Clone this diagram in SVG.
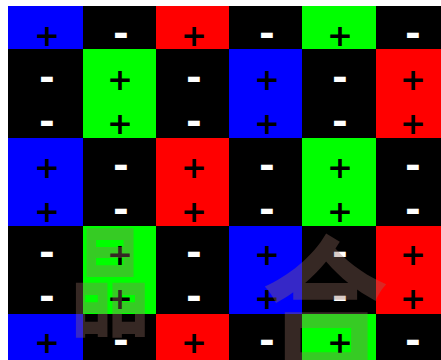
<svg xmlns="http://www.w3.org/2000/svg" width="441" height="360" viewBox="0 0 441 360">
  <style>
    .b { fill: #0000ff; }
    .r { fill: #ff0000; }
    .g { fill: #00ff00; }
    .k { fill: #000000; }
    .p { font-family: "DejaVu Sans", sans-serif; font-weight: bold; font-size: 31px; fill: #000000; text-anchor: middle; }
    .m { font-family: "DejaVu Sans", sans-serif; font-weight: bold; font-size: 38px; fill: #ffffff; text-anchor: middle; }
    .wm { font-family: "Noto Sans CJK SC", sans-serif; font-weight: 700; fill: rgb(150,110,100); fill-opacity: 0.36; text-anchor: middle; }
  </style>
  <rect x="0" y="0" width="441" height="360" fill="#ffffff"/>
  <g id="cells">
    <rect class="b" x="8" y="6" width="75" height="43"/>
    <rect class="k" x="83" y="6" width="73" height="43"/>
    <rect class="r" x="156" y="6" width="73" height="43"/>
    <rect class="k" x="229" y="6" width="73" height="43"/>
    <rect class="g" x="302" y="6" width="74" height="43"/>
    <rect class="k" x="376" y="6" width="65" height="43"/>
    <rect class="k" x="8" y="49" width="75" height="89"/>
    <rect class="g" x="83" y="49" width="73" height="89"/>
    <rect class="k" x="156" y="49" width="73" height="89"/>
    <rect class="b" x="229" y="49" width="73" height="89"/>
    <rect class="k" x="302" y="49" width="74" height="89"/>
    <rect class="r" x="376" y="49" width="65" height="89"/>
    <rect class="b" x="8" y="138" width="75" height="88"/>
    <rect class="k" x="83" y="138" width="73" height="88"/>
    <rect class="r" x="156" y="138" width="73" height="88"/>
    <rect class="k" x="229" y="138" width="73" height="88"/>
    <rect class="g" x="302" y="138" width="74" height="88"/>
    <rect class="k" x="376" y="138" width="65" height="88"/>
    <rect class="k" x="8" y="226" width="75" height="88"/>
    <rect class="g" x="83" y="226" width="73" height="88"/>
    <rect class="k" x="156" y="226" width="73" height="88"/>
    <rect class="b" x="229" y="226" width="73" height="88"/>
    <rect class="k" x="302" y="226" width="74" height="88"/>
    <rect class="r" x="376" y="226" width="65" height="88"/>
    <rect class="b" x="8" y="314" width="75" height="46"/>
    <rect class="k" x="83" y="314" width="73" height="46"/>
    <rect class="r" x="156" y="314" width="73" height="46"/>
    <rect class="k" x="229" y="314" width="73" height="46"/>
    <rect class="g" x="302" y="314" width="74" height="46"/>
    <rect class="k" x="376" y="314" width="65" height="46"/>
  </g>
  <g id="signs">
    <text class="p" x="47" y="46">+</text>
    <text class="m" x="121" y="46">-</text>
    <text class="p" x="194" y="46">+</text>
    <text class="m" x="267" y="46">-</text>
    <text class="p" x="340" y="46">+</text>
    <text class="m" x="413" y="46">-</text>
    <text class="m" x="47" y="90">-</text>
    <text class="p" x="120" y="90">+</text>
    <text class="m" x="194" y="90">-</text>
    <text class="p" x="267" y="90">+</text>
    <text class="m" x="340" y="90">-</text>
    <text class="p" x="413" y="90">+</text>
    <text class="m" x="47" y="134">-</text>
    <text class="p" x="120" y="134">+</text>
    <text class="m" x="194" y="134">-</text>
    <text class="p" x="267" y="134">+</text>
    <text class="m" x="340" y="134">-</text>
    <text class="p" x="413" y="134">+</text>
    <text class="p" x="47" y="178">+</text>
    <text class="m" x="121" y="178">-</text>
    <text class="p" x="194" y="178">+</text>
    <text class="m" x="267" y="178">-</text>
    <text class="p" x="340" y="178">+</text>
    <text class="m" x="413" y="178">-</text>
    <text class="p" x="47" y="222">+</text>
    <text class="m" x="121" y="222">-</text>
    <text class="p" x="194" y="222">+</text>
    <text class="m" x="267" y="222">-</text>
    <text class="p" x="340" y="222">+</text>
    <text class="m" x="413" y="222">-</text>
    <text class="m" x="47" y="265">-</text>
    <text class="p" x="120" y="265">+</text>
    <text class="m" x="194" y="265">-</text>
    <text class="p" x="267" y="265">+</text>
    <text class="m" x="340" y="265">-</text>
    <text class="p" x="413" y="265">+</text>
    <text class="m" x="47" y="309">-</text>
    <text class="p" x="120" y="309">+</text>
    <text class="m" x="194" y="309">-</text>
    <text class="p" x="267" y="309">+</text>
    <text class="m" x="340" y="309">-</text>
    <text class="p" x="413" y="309">+</text>
    <text class="p" x="47" y="353">+</text>
    <text class="m" x="121" y="353">-</text>
    <text class="p" x="194" y="353">+</text>
    <text class="m" x="267" y="353">-</text>
    <text class="p" x="340" y="353">+</text>
    <text class="m" x="413" y="353">-</text>
  </g>
  <g id="watermark">
    <text class="wm" font-size="120" transform="translate(110,327) scale(0.68,1)">晶</text>
    <text class="wm" font-size="150" transform="translate(325,362) scale(0.85,1)">合</text>
  </g>
</svg>
